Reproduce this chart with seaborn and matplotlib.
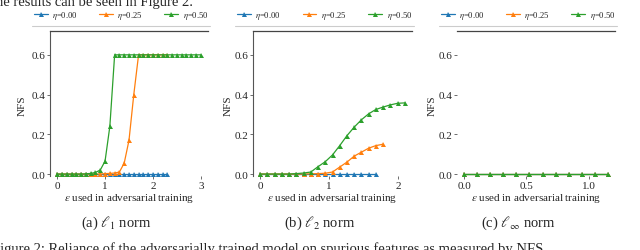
import matplotlib
matplotlib.use("Agg")
import matplotlib.pyplot as plt
import seaborn as sns
from matplotlib.lines import Line2D

# epsilon grids
eps_l1 = [0.0, 0.1, 0.2, 0.3, 0.4, 0.5, 0.6, 0.7, 0.8, 0.9, 1.0, 1.1, 1.2, 1.3, 1.4, 1.5,
          1.6, 1.7, 1.8, 1.9, 2.0, 2.1, 2.2, 2.3, 2.4, 2.5, 2.6, 2.7, 2.8, 2.9, 3.0]
eps_l2 = [0.0, 0.105, 0.21, 0.315, 0.42, 0.525, 0.63, 0.735, 0.84, 0.945, 1.05, 1.155,
          1.26, 1.365, 1.47, 1.575, 1.68, 1.785, 1.89, 1.995, 2.1]
eps_linf = [0.0, 0.105, 0.21, 0.315, 0.42, 0.525, 0.63, 0.735, 0.84, 0.945, 1.05, 1.155]

# NFS values, l1
l1_eta000 = [0.0] * 24
l1_eta025 = [0.0, 0.0, 0.0, 0.0, 0.0, 0.0, 0.0, 0.0, 0.0, 0.0, 0.002, 0.003, 0.005, 0.01,
             0.055, 0.17, 0.40, 0.60, 0.60, 0.60, 0.60, 0.60, 0.60, 0.60]
l1_eta050 = [0.0, 0.0, 0.0, 0.0, 0.0, 0.0, 0.001, 0.003, 0.008, 0.02, 0.065, 0.24, 0.60,
             0.60, 0.60, 0.60, 0.60, 0.60, 0.60, 0.60, 0.60, 0.60, 0.60, 0.60, 0.60, 0.60,
             0.60, 0.60, 0.60, 0.60, 0.60]

# NFS values, l2
l2_eta000 = [0.0] * 17
l2_eta025 = [0.0, 0.0, 0.0, 0.0, 0.0, 0.0, 0.0, 0.001, 0.002, 0.004, 0.01, 0.035, 0.06,
             0.09, 0.11, 0.13, 0.143, 0.15]
l2_eta050 = [0.0, 0.0, 0.0, 0.0, 0.0, 0.002, 0.005, 0.01, 0.037, 0.062, 0.096, 0.143,
             0.193, 0.236, 0.273, 0.303, 0.325, 0.337, 0.348, 0.356, 0.358]

# NFS values, linf
linf_eta000 = [0.0] * 12
linf_eta025 = [0.0] * 12
linf_eta050 = [0.0] * 12

eta_labels = [r"$\eta$=0.00", r"$\eta$=0.25", r"$\eta$=0.50"]
colors = ["#1f77b4", "#ff7f0e", "#2ca02c"]

sns.set_style("ticks")
plt.rcParams["font.family"] = ["Liberation Serif", "DejaVu Serif"]
plt.rcParams["mathtext.fontset"] = "stix"

fig = plt.figure(figsize=(6.4, 2.51), dpi=100)
W, H = 640, 251

panels = [
    (50, 158, eps_l1, [l1_eta000, l1_eta025, l1_eta050], [0, 1, 2, 3], ["0", "1", "2", "3"]),
    (253, 159, eps_l2, [l2_eta000, l2_eta025, l2_eta050], [0, 1, 2], ["0", "1", "2"]),
    (457, 158, eps_linf, [linf_eta000, linf_eta025, linf_eta050], [0.0, 0.5, 1.0],
     ["0.0", "0.5", "1.0"]),
]
captions = [r"(a) $\ell_1$ norm", r"(b) $\ell_2$ norm", r"(c) $\ell_\infty$ norm"]
cap_x = [116, 320, 518]

for i, (left, width, eps, series, xt, xtl) in enumerate(panels):
    ax = fig.add_axes([left / W, 1 - 177 / H, width / W, 145 / H])
    for ys, lab, col in zip(series, eta_labels, colors):
        sns.lineplot(x=eps[:len(ys)], y=ys, ax=ax, color=col, label=lab, marker="^",
                     markersize=3.6, markeredgewidth=0, linewidth=0.9)
    lo, hi = eps[0], eps[-1]
    m = (hi - lo) * 0.05
    ax.set_xlim(lo - m, hi + m)
    ax.set_ylim(-0.01, 0.72)
    ax.set_yticks([0.0, 0.2, 0.4, 0.6])
    ax.set_yticklabels(["0.0", "0.2", "0.4", "0.6"])
    ax.set_xticks(xt)
    ax.set_xticklabels(xtl)
    ax.tick_params(labelsize=8, length=2, width=0.6, pad=1.5, color="#555555")
    ax.set_xlabel(r"$\epsilon$ used in adversarial training", fontsize=8, labelpad=1)
    ax.set_ylabel("NFS", fontsize=8)
    ax.yaxis.set_label_coords(-0.15 if i == 0 else -0.13, 0.49)
    for s in ["right", "bottom"]:
        ax.spines[s].set_visible(False)
    ax.spines["left"].set_visible(i < 2)
    ax.spines["top"].set_color("#444444")
    ax.spines["left"].set_color("#555555")
    ax.spines["top"].set_linewidth(0.9)
    ax.spines["left"].set_linewidth(0.8)

    x0 = -18 / width
    ax.legend(loc="lower left", bbox_to_anchor=(x0, 1.06, 1 - x0 + 2 / width, 0.1),
              mode="expand", ncol=3, frameon=False, fontsize=6.2, handlelength=1.6,
              handletextpad=0.5, borderaxespad=0, borderpad=0.2)
    ax.add_line(Line2D([x0, 1 + 2 / width], [1.035, 1.035], transform=ax.transAxes,
                       color="#cccccc", linewidth=0.8, clip_on=False))

    fig.text(cap_x[i] / W, 1 - 223 / H, captions[i], ha="center", va="center", fontsize=10.5)

# surrounding page text, cut by the crop as in the source
fig.text(-8 / W, 1 - 6 / H, "the results can be seen in Figure 2.", va="baseline",
         fontsize=10.5)
fig.text(-8 / W, -2 / H,
         "Figure 2: Reliance of the adversarially trained model on spurious features "
         "as measured by NFS.", va="baseline", fontsize=10.5)

fig.savefig("out.png", dpi=100)
